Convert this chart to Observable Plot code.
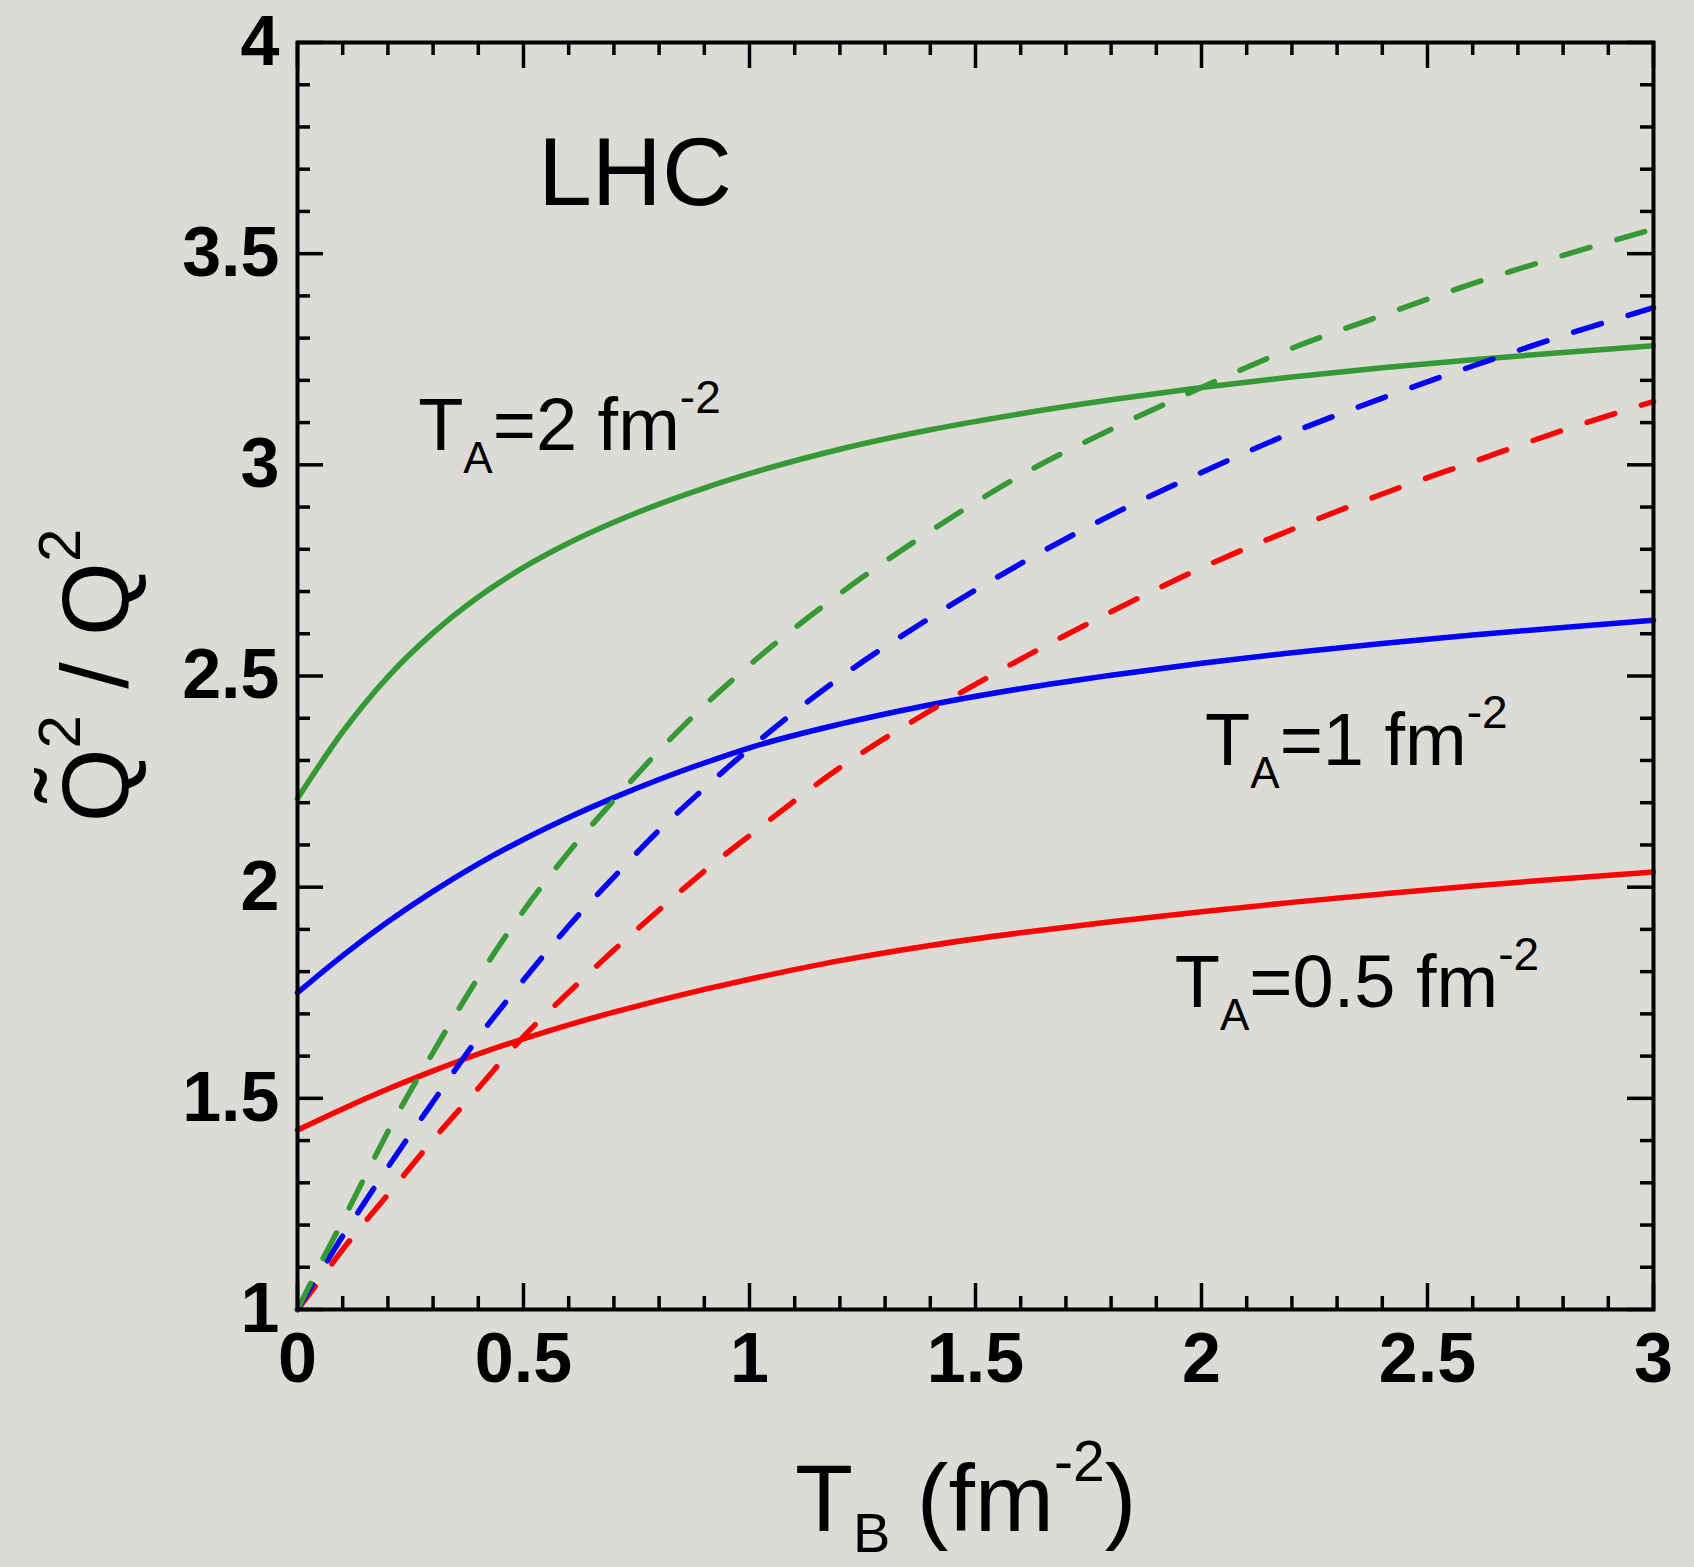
<!DOCTYPE html>
<html>
<head>
<meta charset="utf-8">
<script src="https://cdn.jsdelivr.net/npm/d3@7"></script>
<script src="https://cdn.jsdelivr.net/npm/@observablehq/plot@0.6"></script>
<style>
  html, body { margin: 0; padding: 0; background: #dddbd6; }
  svg text { white-space: pre; }
</style>
</head>
<body>
<div id="chart"></div>
<script>
// ---------- data ----------
const solidTB = [0, 0.1, 0.2, 0.3, 0.4, 0.5, 0.6, 0.7, 0.8, 0.9, 1.0, 1.2, 1.4, 1.6, 1.8, 2.0, 2.2, 2.4, 2.6, 2.8, 3.0];
const solidTA2  = [2.21, 2.368, 2.498, 2.602, 2.687, 2.757, 2.815, 2.864, 2.907, 2.945, 2.979, 3.037, 3.083, 3.121, 3.154, 3.183, 3.208, 3.230, 3.249, 3.266, 3.282];
const solidTA1  = [1.75, 1.838, 1.918, 1.990, 2.055, 2.113, 2.165, 2.212, 2.255, 2.294, 2.330, 2.386, 2.432, 2.470, 2.502, 2.530, 2.555, 2.577, 2.597, 2.615, 2.632];
const solidTA05 = [1.425, 1.475, 1.522, 1.565, 1.605, 1.641, 1.674, 1.704, 1.732, 1.758, 1.782, 1.826, 1.862, 1.892, 1.918, 1.942, 1.964, 1.984, 2.003, 2.020, 2.036];

const dashedTB = [0, 0.05, 0.1, 0.15, 0.2, 0.3, 0.4, 0.5, 0.6, 0.7, 0.8, 0.9, 1.0, 1.2, 1.4, 1.6, 1.8, 2.0, 2.2, 2.4, 2.6, 2.8, 3.0];
const dashedTA2  = [1.0, 1.107, 1.21, 1.316, 1.421, 1.609, 1.786, 1.944, 2.083, 2.206, 2.323, 2.430, 2.526, 2.695, 2.843, 2.975, 3.084, 3.183, 3.276, 3.354, 3.429, 3.496, 3.558];
const dashedTA1  = [1.0, 1.088, 1.174, 1.256, 1.337, 1.492, 1.644, 1.780, 1.908, 2.024, 2.135, 2.234, 2.328, 2.496, 2.638, 2.766, 2.881, 2.982, 3.076, 3.158, 3.234, 3.306, 3.372];
const dashedTA05 = [1.0, 1.07, 1.142, 1.208, 1.272, 1.402, 1.524, 1.646, 1.751, 1.851, 1.946, 2.038, 2.122, 2.283, 2.418, 2.540, 2.652, 2.756, 2.847, 2.931, 3.007, 3.082, 3.150];

const seriesKeys = ["0.5", "1", "2"];
const seriesColors = ["#ff0000", "#0000ff", "#359a35"];

const xTicks = [0, 0.5, 1, 1.5, 2, 2.5, 3];
const yTicks = [1, 1.5, 2, 2.5, 3, 3.5, 4];
const xMinor = d3.range(0, 31).map(i => i / 10);
const yMinor = d3.range(10, 41).map(i => i / 10);

const title = "LHC";
const labelTA = ["2", "1", "0.5"];

// ---------- tables ----------
const solidRows = [
  ...solidTB.map((t, i) => ({tb: t, q: solidTA05[i], ta: "0.5"})),
  ...solidTB.map((t, i) => ({tb: t, q: solidTA1[i], ta: "1"})),
  ...solidTB.map((t, i) => ({tb: t, q: solidTA2[i], ta: "2"}))
];
const dashedRows = [
  ...dashedTB.map((t, i) => ({tb: t, q: dashedTA05[i], ta: "0.5"})),
  ...dashedTB.map((t, i) => ({tb: t, q: dashedTA1[i], ta: "1"})),
  ...dashedTB.map((t, i) => ({tb: t, q: dashedTA2[i], ta: "2"}))
];

// ---------- layout ----------
const W = 1694, H = 1567;
const M = {left: 297, right: 41, top: 42, bottom: 258};
const frameW = W - M.left - M.right, frameH = H - M.top - M.bottom;
const FONT = "'Liberation Sans', Arial, Helvetica, sans-serif";
const MAJOR = 26, MINOR = 13, TICKW = 3.5;

const isMajor = v => Math.abs(v * 2 - Math.round(v * 2)) < 1e-9;
const xMinorOnly = xMinor.filter(v => !isMajor(v));
const yMinorOnly = yMinor.filter(v => !isMajor(v));

const chart = Plot.plot({
  width: W, height: H,
  marginLeft: M.left, marginRight: M.right, marginTop: M.top, marginBottom: M.bottom,
  style: {background: "#dddbd6", fontFamily: FONT, color: "black"},
  x: {domain: [0, 3]},
  y: {domain: [1, 4]},
  color: {domain: seriesKeys, range: seriesColors},
  marks: [
    Plot.line(solidRows, {x: "tb", y: "q", z: "ta", stroke: "ta", strokeWidth: 5.5, curve: "monotone-x"}),
    Plot.line(dashedRows, {x: "tb", y: "q", z: "ta", stroke: "ta", strokeWidth: 5.5, strokeDasharray: "29,28", curve: "monotone-x"}),
    // inward ticks on all four sides
    Plot.tickX(xTicks, {x: d => d, insetTop: frameH - MAJOR, stroke: "black", strokeWidth: TICKW}),
    Plot.tickX(xMinorOnly, {x: d => d, insetTop: frameH - MINOR, stroke: "black", strokeWidth: TICKW}),
    Plot.tickX(xTicks, {x: d => d, insetBottom: frameH - MAJOR, stroke: "black", strokeWidth: TICKW}),
    Plot.tickX(xMinorOnly, {x: d => d, insetBottom: frameH - MINOR, stroke: "black", strokeWidth: TICKW}),
    Plot.tickY(yTicks, {y: d => d, insetRight: frameW - MAJOR, stroke: "black", strokeWidth: TICKW}),
    Plot.tickY(yMinorOnly, {y: d => d, insetRight: frameW - MINOR, stroke: "black", strokeWidth: TICKW}),
    Plot.tickY(yTicks, {y: d => d, insetLeft: frameW - MAJOR, stroke: "black", strokeWidth: TICKW}),
    Plot.tickY(yMinorOnly, {y: d => d, insetLeft: frameW - MINOR, stroke: "black", strokeWidth: TICKW}),
    Plot.axisX({ticks: xTicks, anchor: "bottom", tickSize: 0, tickPadding: 23, fontSize: 70, fontWeight: "bold",
      tickFormat: d => String(d), label: null, fill: "black"}),
    Plot.axisY({ticks: yTicks, anchor: "left", tickSize: 0, tickPadding: 18, fontSize: 70, fontWeight: "bold",
      tickFormat: d => String(d), label: null, fill: "black"}),
    Plot.frame({stroke: "black", strokeWidth: 4})
  ]
});
document.getElementById("chart").appendChild(chart);

// ---------- annotations (rich text with sub/superscripts) ----------
const sx = chart.scale("x"), sy = chart.scale("y");
const NS = "http://www.w3.org/2000/svg";
function richText(parent, x, y, parts, anchor) {
  const t = document.createElementNS(NS, "text");
  t.setAttribute("x", x); t.setAttribute("y", y);
  t.setAttribute("text-anchor", anchor || "start");
  t.setAttribute("font-family", FONT);
  t.setAttribute("fill", "black");
  let cur = 0;
  for (const p of parts) {
    const s = document.createElementNS(NS, "tspan");
    s.textContent = p.t;
    s.setAttribute("font-size", p.size);
    const shift = p.shift || 0;
    if (shift !== cur) { s.setAttribute("dy", shift - cur); cur = shift; }
    t.appendChild(s);
  }
  parent.appendChild(t);
  return t;
}

const annotations = [
  {x: 0.533, y: 3.614, parts: [{t: title, size: 97}]},
  {x: 0.268, y: 3.034, ta: labelTA[0]},
  {x: 2.009, y: 2.288, ta: labelTA[1]},
  {x: 1.942, y: 1.716, ta: labelTA[2]}
];
const g = document.createElementNS(NS, "g");
chart.appendChild(g);
for (const a of annotations) {
  const parts = a.parts || [
    {t: "T", size: 74},
    {t: "A", size: 44, shift: 23},
    {t: "=" + a.ta + " fm", size: 74, shift: 0},
    {t: "-2", size: 46, shift: -37}
  ];
  richText(g, sx.apply(a.x), sy.apply(a.y), parts);
}

// x-axis title
richText(g, 795, 1531, [
  {t: "T", size: 95},
  {t: "B", size: 56, shift: 21},
  {t: " (fm", size: 95, shift: 0},
  {t: "-2", size: 57, shift: -50},
  {t: ")", size: 95, shift: 0}
]);

// y-axis title (rotated)
const gy = document.createElementNS(NS, "g");
gy.setAttribute("transform", `translate(128, ${(M.top + H - M.bottom) / 2}) rotate(-90)`);
chart.appendChild(gy);
const yt = richText(gy, 0, 0, [
  {t: "Q", size: 95},
  {t: "2", size: 60, shift: -48},
  {t: " / Q", size: 95, shift: 0},
  {t: "2", size: 60, shift: -48}
], "middle");
// tilde over the first Q
const ext = yt.getExtentOfChar(0);
const tl = document.createElementNS(NS, "text");
tl.setAttribute("x", ext.x + ext.width / 2);
tl.setAttribute("y", -22);
tl.setAttribute("text-anchor", "middle");
tl.setAttribute("font-family", FONT);
tl.setAttribute("font-size", 100);
tl.setAttribute("fill", "black");
tl.textContent = "\u02DC";
gy.appendChild(tl);
</script>
</body>
</html>
